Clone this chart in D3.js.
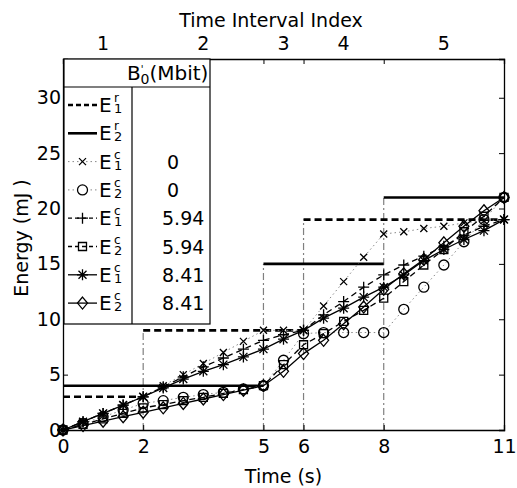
<!DOCTYPE html>
<html>
<head>
<meta charset="utf-8">
<script src="https://cdn.jsdelivr.net/npm/d3@7/dist/d3.min.js"></script>
<style>
    body { margin: 0; background: #fff; }
    text { font-family: "DejaVu Sans", sans-serif; fill: #000; }
</style>
</head>
<body>
<svg id="chart" width="517" height="488"></svg>
<script>
// time samples (s)
const timePoints = [0, 0.5, 1, 1.5, 2, 2.5, 3, 3.5, 4, 4.5, 5, 5.5, 6, 6.5, 7, 7.5, 8, 8.5, 9, 9.5, 10, 10.5, 11];

// E1^c for B'0 = 0, 5.94, 8.41
const e1B0 = [0, 0.75, 1.5, 2.25, 3, 4, 5, 6, 7, 8, 9, 9, 9, 11.2, 13.4, 15.6, 17.7, 17.9, 18.2, 18.4, 18.7, 18.9, 19];
const e1B594 = [0, 0.75, 1.5, 2.25, 3, 3.9, 4.8, 5.7, 6.5, 7.3, 8.1, 8.6, 9, 10.4, 11.6, 12.9, 14.0, 14.9, 15.7, 16.6, 17.6, 18.4, 19];
const e1B841 = [0, 0.75, 1.5, 2.25, 3, 3.8, 4.6, 5.3, 5.9, 6.6, 7.3, 8.2, 9, 10.1, 11.0, 12.0, 12.9, 14.0, 15.3, 16.3, 17.2, 18.0, 19];
// E2^c for B'0 = 0, 5.94, 8.41
const e2B0 = [0, 0.6, 1.2, 1.8, 2.4, 2.65, 2.95, 3.2, 3.4, 3.7, 4.0, 6.3, 8.7, 8.8, 8.8, 8.8, 8.8, 10.9, 12.9, 14.9, 17.0, 19.0, 21.0];
const e2B594 = [0, 0.5, 1.0, 1.5, 2.0, 2.3, 2.65, 2.95, 3.3, 3.65, 4.0, 5.9, 7.7, 8.7, 9.8, 10.8, 11.9, 13.4, 14.9, 16.3, 17.9, 19.3, 21.0];
const e2B841 = [0, 0.4, 0.8, 1.2, 1.6, 2.0, 2.4, 2.8, 3.2, 3.6, 4.0, 5.3, 6.9, 8.1, 9.6, 11.1, 12.7, 14.1, 15.4, 16.9, 18.4, 19.8, 21.0];

// reference (required) energy steps
const e1rBreaks = [0, 2, 6, 11];
const e1rValues = [3, 9, 19];
const e2rBreaks = [0, 5, 8, 11];
const e2rValues = [4, 15, 21];

// time intervals
const intervalBounds = [0, 2, 5, 6, 8, 11];
const intervalLabels = ["1", "2", "3", "4", "5"];

const xTicks = [0, 2, 5, 6, 8, 11];
const yTicks = [0, 5, 10, 15, 20, 25, 30];
const bufferLabels = ["0", "0", "5.94", "5.94", "8.41", "8.41"];

const svg = d3.select("#chart");
const width = +svg.attr("width");
const height = +svg.attr("height");
const margin = { top: 59, right: 13, bottom: 58, left: 63 };
const chartWidth = width - margin.left - margin.right;
const chartHeight = height - margin.top - margin.bottom;

const chart = svg.append("g").attr("transform", `translate(${margin.left},${margin.top})`);

const xScale = d3.scaleLinear().domain([0, 11]).range([0, chartWidth]);
const yScale = d3.scaleLinear().domain([0, 33.5]).range([chartHeight, 0]);

// gray dash-dot guides at interval boundaries
function stepAt(breaks, values, x) {
    const out = [];
    for (let i = 0; i < values.length; i++) {
        if (x >= breaks[i] && x <= breaks[i + 1]) out.push(values[i]);
    }
    return out;
}
const guides = intervalBounds.slice(1, -1).map((b) => ({
    x: b,
    top: d3.max(stepAt(e1rBreaks, e1rValues, b).concat(stepAt(e2rBreaks, e2rValues, b)))
}));
chart.selectAll(".guide")
    .data(guides)
    .join("line")
    .attr("class", "guide")
    .attr("x1", (d) => xScale(d.x))
    .attr("x2", (d) => xScale(d.x))
    .attr("y1", yScale(0))
    .attr("y2", (d) => yScale(d.top))
    .style("stroke", "#808080")
    .style("stroke-width", 1.2)
    .style("stroke-dasharray", "7,3,2,3");

// reference steps
function drawSteps(breaks, values, dash) {
    chart.append("g")
        .selectAll("line")
        .data(values)
        .join("line")
        .attr("x1", (d, i) => xScale(breaks[i]))
        .attr("x2", (d, i) => xScale(breaks[i + 1]))
        .attr("y1", (d) => yScale(d))
        .attr("y2", (d) => yScale(d))
        .style("stroke", "#000")
        .style("stroke-width", 2.6)
        .style("stroke-dasharray", dash);
}
drawSteps(e1rBreaks, e1rValues, "7,4");
drawSteps(e2rBreaks, e2rValues, null);

// marker shapes
function markerPath(type) {
    switch (type) {
        case "x": return "M-3.5,-3.5L3.5,3.5M-3.5,3.5L3.5,-3.5";
        case "o": return "M5,0A5,5 0 1,1 -5,0A5,5 0 1,1 5,0Z";
        case "+": return "M-5.5,0H5.5M0,-5.5V5.5";
        case "s": return "M-4,-4H4V4H-4Z";
        case "*": return "M-5.5,0H5.5M0,-5.5V5.5M-4,-4L4,4M-4,4L4,-4";
        case "d": return "M0,-6L5,0L0,6L-5,0Z";
    }
}

const seriesList = [
    { values: e1B0, marker: "x", color: "#888", width: 1, dash: "1.5,3" },
    { values: e2B0, marker: "o", color: "#888", width: 1, dash: "1.5,3" },
    { values: e1B594, marker: "+", color: "#000", width: 1.3, dash: "6,4" },
    { values: e2B594, marker: "s", color: "#000", width: 1.3, dash: "6,4" },
    { values: e1B841, marker: "*", color: "#000", width: 1.3, dash: null },
    { values: e2B841, marker: "d", color: "#000", width: 1.3, dash: null }
];

const line = d3.line()
    .x((d) => xScale(d.t))
    .y((d) => yScale(d.v));

seriesList.forEach((s) => {
    const pts = timePoints.map((t, i) => ({ t: t, v: s.values[i] }));
    chart.append("path")
        .datum(pts)
        .attr("d", line)
        .style("fill", "none")
        .style("stroke", s.color)
        .style("stroke-width", s.width)
        .style("stroke-dasharray", s.dash);
    chart.append("g")
        .selectAll("path")
        .data(pts)
        .join("path")
        .attr("transform", (d) => `translate(${xScale(d.t)},${yScale(d.v)})`)
        .attr("d", markerPath(s.marker))
        .style("fill", "none")
        .style("stroke", "#000")
        .style("stroke-width", 1.3);
});

// axes (ticks inside, MATLAB style)
const axisFont = "19px";
const xAxisBottom = d3.axisBottom(xScale).tickValues(xTicks).tickSize(-5).tickPadding(10).tickFormat(d3.format("d"));
const xAxisTop = d3.axisTop(xScale).tickValues(intervalBounds.slice(1, -1)).tickSize(-5).tickFormat("");
const yAxisLeft = d3.axisLeft(yScale).tickValues(yTicks).tickSize(-5).tickPadding(2);
const yAxisRight = d3.axisRight(yScale).tickValues(yTicks).tickSize(-5).tickFormat("");

chart.append("g").attr("transform", `translate(0,${chartHeight})`).call(xAxisBottom);
chart.append("g").call(xAxisTop).selectAll("text").remove();
chart.append("g").call(yAxisLeft);
chart.append("g").attr("transform", `translate(${chartWidth},0)`).call(yAxisRight).selectAll("text").remove();

chart.selectAll(".domain").style("stroke", "#000").style("stroke-width", 1.3);
chart.selectAll(".tick line").style("stroke", "#000");
chart.selectAll(".tick text").style("font-size", axisFont).style("fill", "#000");

// top interval index labels
chart.append("g")
    .selectAll("text")
    .data(intervalLabels)
    .join("text")
    .attr("x", (d, i) => xScale((intervalBounds[i] + intervalBounds[i + 1]) / 2))
    .attr("y", -9)
    .attr("text-anchor", "middle")
    .style("font-size", axisFont)
    .text((d) => d);

svg.append("text")
    .attr("x", 271)
    .attr("y", 27)
    .attr("text-anchor", "middle")
    .style("font-size", axisFont)
    .text("Time Interval Index");

svg.append("text")
    .attr("x", margin.left + chartWidth / 2)
    .attr("y", 483)
    .attr("text-anchor", "middle")
    .style("font-size", axisFont)
    .text("Time (s)");

svg.append("text")
    .attr("transform", "translate(28,238) rotate(-90)")
    .attr("text-anchor", "middle")
    .style("font-size", axisFont)
    .text("Energy (mJ )");

// legend table
const legend = svg.append("g");
const legLeft = 64, legRight = 210, legTop = 59, legBottom = 324, headerLine = 87, divider = 132;
legend.append("rect")
    .attr("x", legLeft).attr("y", legTop)
    .attr("width", legRight - legLeft).attr("height", legBottom - legTop)
    .style("fill", "#fff").style("stroke", "#000").style("stroke-width", 1.2);
legend.append("line")
    .attr("x1", legLeft).attr("x2", legRight).attr("y1", headerLine).attr("y2", headerLine)
    .style("stroke", "#000").style("stroke-width", 1.2);
legend.append("line")
    .attr("x1", divider).attr("x2", divider).attr("y1", headerLine).attr("y2", legBottom)
    .style("stroke", "#000").style("stroke-width", 1.2);

const header = legend.append("text").attr("x", 127).attr("y", 80).style("font-size", "20px");
header.append("tspan").text("B");
header.append("tspan").attr("dy", -7).style("font-size", "10px").text("'");
header.append("tspan").attr("dx", -3).attr("dy", 11).style("font-size", "14px").text("0");
header.append("tspan").attr("dy", -4).text("(Mbit)");

const legendRows = [
    { sup: "r", sub: "1", marker: null, color: "#000", width: 2.6, dash: "5,3" },
    { sup: "r", sub: "2", marker: null, color: "#000", width: 2.6, dash: null },
    { sup: "c", sub: "1", marker: "x", color: "#888", width: 1, dash: "1.5,3", label: bufferLabels[0] },
    { sup: "c", sub: "2", marker: "o", color: "#888", width: 1, dash: "1.5,3", label: bufferLabels[1] },
    { sup: "c", sub: "1", marker: "+", color: "#000", width: 1.3, dash: "4,3", label: bufferLabels[2] },
    { sup: "c", sub: "2", marker: "s", color: "#000", width: 1.3, dash: "4,3", label: bufferLabels[3] },
    { sup: "c", sub: "1", marker: "*", color: "#000", width: 1.3, dash: null, label: bufferLabels[4] },
    { sup: "c", sub: "2", marker: "d", color: "#000", width: 1.3, dash: null, label: bufferLabels[5] }
];
const rowY = (i) => 105 + i * 28.3;

legendRows.forEach((r, i) => {
    const y = rowY(i);
    legend.append("line")
        .attr("x1", 68).attr("x2", 97).attr("y1", y).attr("y2", y)
        .style("stroke", r.color).style("stroke-width", r.width).style("stroke-dasharray", r.dash);
    if (r.marker) {
        legend.append("path")
            .attr("transform", `translate(82.5,${y})`)
            .attr("d", markerPath(r.marker))
            .style("fill", r.marker === "x" || r.marker === "o" ? "#fff" : "none")
            .style("stroke", "#000").style("stroke-width", 1.3);
    }
    const lab = legend.append("text").attr("x", 99).attr("y", y + 7).style("font-size", "20px");
    lab.append("tspan").text("E");
    lab.append("tspan").attr("x", 114).attr("dy", -10).style("font-size", "12px").text(r.sup);
    lab.append("tspan").attr("x", 114).attr("dy", 11).style("font-size", "13px").text(r.sub);
    if (r.label) {
        legend.append("text")
            .attr("x", r.label === "0" ? 167 : 162)
            .attr("y", y + 7)
            .style("font-size", "19px")
            .text(r.label);
    }
});
</script>
</body>
</html>
